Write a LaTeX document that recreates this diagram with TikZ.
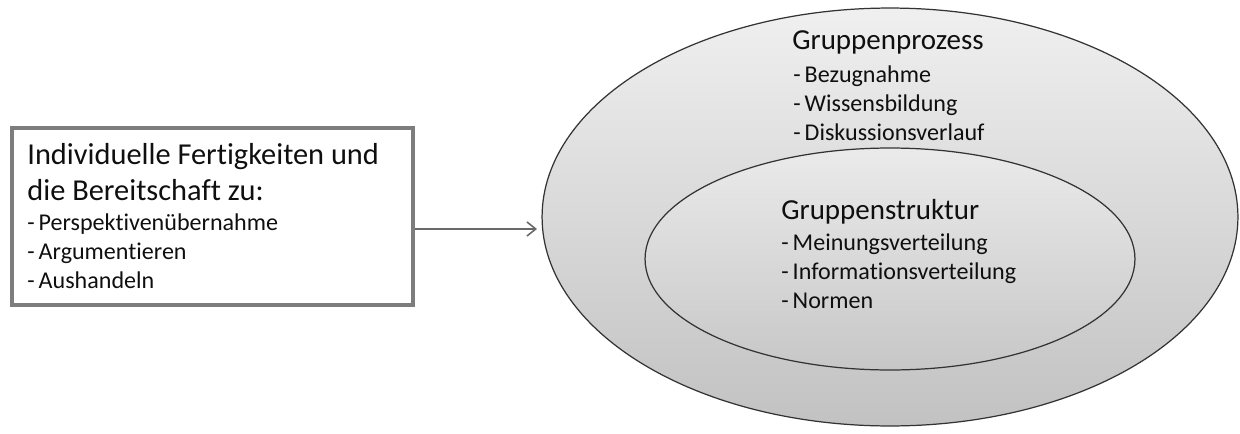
\documentclass[tikz,border=0pt]{standalone}
\usepackage{fontspec}
\setmainfont{Carlito}[Ligatures=NoCommon]
\usetikzlibrary{shapes.geometric,arrows.meta}
\definecolor{framegray}{RGB}{125,125,125}
\definecolor{arrowgray}{RGB}{105,105,105}
\definecolor{inkdark}{RGB}{15,15,15}

\begin{document}
\begin{tikzpicture}[x=0.02cm, y=-0.02cm, text=inkdark,
    boxhead/.style={anchor=base west, inner sep=0pt, font=\fontsize{17.3}{20}\selectfont},
    heading/.style={anchor=base west, inner sep=0pt, font=\fontsize{16.5}{19}\selectfont},
    item/.style={anchor=base west, inner sep=0pt, font=\fontsize{13.7}{16}\selectfont},
    ring/.style={ellipse, draw=black!80, line width=0.7pt, inner sep=0pt}]
  \useasboundingbox (0,0) rectangle (1240,433);

  % Left box with individual skills
  \node[draw=framegray, line width=1.8pt, minimum width=8.02cm, minimum height=3.54cm, inner sep=0pt] (skills) at (212.5,216.5) {};
  \node[boxhead] (skillsA) at (27,164) {Individuelle Fertigkeiten und};
  \node[boxhead] (skillsB) at (27,200) {die Bereitschaft zu:};
  \node[item] (skillsC) at (27,230) {-\,Perspektivenübernahme};
  \node[item] (skillsD) at (27,259) {-\,Argumentieren};
  \node[item] (skillsE) at (27,288) {-\,Aushandeln};

  % Nested ellipses
  \node[ring, top color=gray!12, bottom color=gray!48, minimum width=13.92cm, minimum height=8.36cm] (process) at (890,217) {};
  \node[ring, top color=gray!16, bottom color=gray!44, minimum width=9.8cm, minimum height=4.44cm] (structure) at (890,259) {};

  % Group process
  \node[heading] (procTitle) at (792,49) {Gruppenprozess};
  \node[item] (procA) at (793,82) {-\,Bezugnahme};
  \node[item] (procB) at (793,111) {-\,Wissensbildung};
  \node[item] (procC) at (793,140) {-\,Diskussionsverlauf};

  % Group structure
  \node[heading] (structTitle) at (781,219) {Gruppenstruktur};
  \node[item] (structA) at (781,250) {-\,Meinungsverteilung};
  \node[item] (structB) at (781,279) {-\,Informationsverteilung};
  \node[item] (structC) at (781,308) {-\,Normen};

  % Arrow
  \coordinate (arrowtip) at (537,229);
  \draw[arrowgray, line width=0.9pt, -{Straight Barb[length=5pt,width=8pt]}] (skills.east |- arrowtip) -- (arrowtip);
\end{tikzpicture}
\end{document}
